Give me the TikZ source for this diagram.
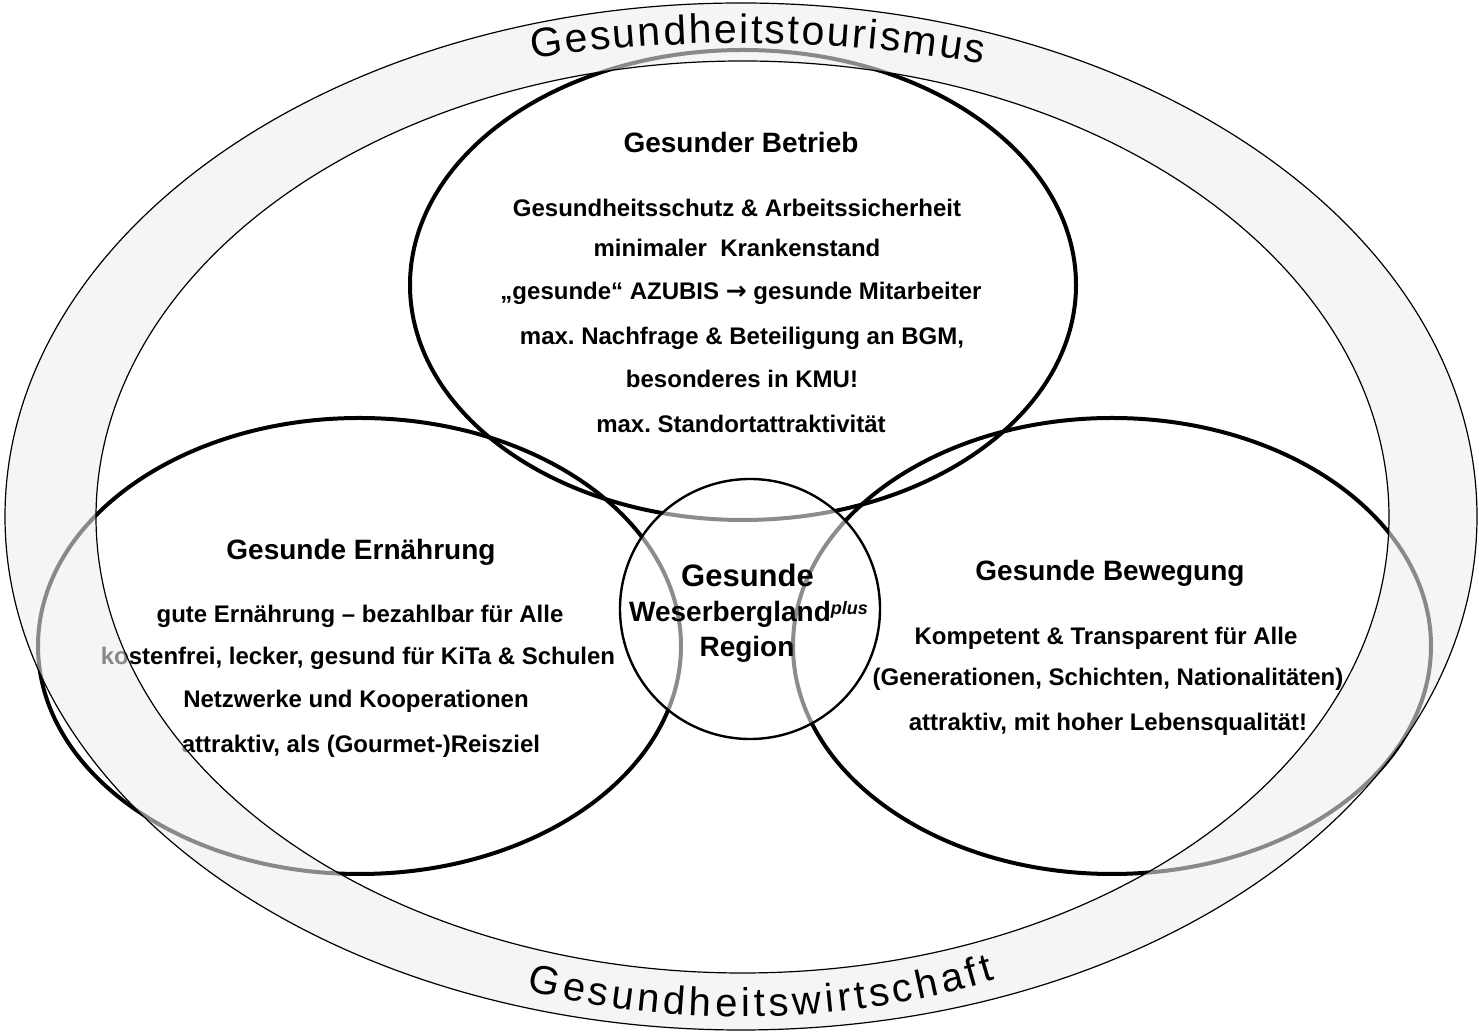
\documentclass[tikz,border=0pt]{standalone}
\usepackage{fontspec}
\setmainfont{Liberation Sans}
\newfontfamily\arrowfont{DejaVu Sans}
\usetikzlibrary{decorations.text}
\newcommand\bandfont{\fontsize{20.5}{20.5}\selectfont}
\newcommand\bandfontb{\fontsize{20}{20}\selectfont}
\frenchspacing
\begin{document}
\begin{tikzpicture}[x=0.5pt,y=0.5pt,
  field/.style={line width=2pt},
  bandfill/.style={fill=black!7, fill opacity=0.58, even odd rule},
  bandline/.style={line width=0.6pt},
  titletext/.style={font=\bfseries\fontsize{14}{14}\selectfont, anchor=base, inner sep=0pt},
  itemtext/.style={font=\bfseries\fontsize{12}{12}\selectfont, anchor=base, inner sep=0pt},
  coretext/.style={font=\bfseries\fontsize{14}{14}\selectfont, anchor=base, inner sep=0pt}]
\useasboundingbox (0,0) rectangle (1479,1033);
% the three fields
\draw[field] (743,748) ellipse [x radius=333, y radius=235];
\draw[field] (359.5,387) ellipse [x radius=321.5, y radius=228];
\draw[field] (1112,387) ellipse [x radius=319, y radius=228];
% region in the middle
\draw[line width=1.2pt, fill=white, fill opacity=0.55] (750,424) circle [radius=130];
% Betrieb
\node[titletext] (betrieb) at (741,880) {Gesunder Betrieb};
\node[itemtext] (betrieb1) at (737,816) {Gesundheitsschutz \& Arbeitssicherheit};
\node[itemtext] (betrieb2) at (737,776) {minimaler\ \ Krankenstand};
\node[itemtext] (betrieb3) at (741,733) {„gesunde“ AZUBIS {\arrowfont\fontsize{12.5}{12.5}\selectfont →} gesunde Mitarbeiter};
\node[itemtext] (betrieb4) at (742,688) {max. Nachfrage \& Beteiligung an BGM,};
\node[itemtext] (betrieb5) at (742,645) {besonderes in KMU!};
\node[itemtext] (betrieb6) at (741,600) {max. Standortattraktivität};
% Ernaehrung
\node[titletext] (ernaehrung) at (361,473) {Gesunde Ernährung};
\node[itemtext] (ernaehrung1) at (360,410) {gute Ernährung – bezahlbar für Alle};
\node[itemtext] (ernaehrung2) at (358,368) {kostenfrei, lecker, gesund für KiTa \& Schulen};
\node[itemtext] (ernaehrung3) at (356,325) {Netzwerke und Kooperationen};
\node[itemtext] (ernaehrung4) at (361,280) {attraktiv, als (Gourmet-)Reisziel};
% Bewegung
\node[titletext] (bewegung) at (1110,452) {Gesunde Bewegung};
\node[itemtext] (bewegung1) at (1106,388) {Kompetent \& Transparent für Alle};
\node[itemtext] (bewegung2) at (1108,347) {(Generationen, Schichten, Nationalitäten)};
\node[itemtext] (bewegung3) at (1108,302) {attraktiv, mit hoher Lebensqualität!};
% Region
\node[coretext, font=\bfseries\fontsize{15.5}{15.5}\selectfont] (region1) at (747.5,446) {Gesunde};
\node[coretext] (region2) at (748.5,411) {Weserbergland\raisebox{3.5pt}{\fontsize{9}{9}\selectfont\itshape plus}};
\node[coretext] (region3) at (747,376) {Region};
% outer band
\fill[bandfill] (741,516.5) ellipse [x radius=736, y radius=513.5]
  (742.5,516) ellipse [x radius=646.5, y radius=456];
\draw[bandline] (741,516.5) ellipse [x radius=736, y radius=513.5];
\draw[bandline] (742.5,516) ellipse [x radius=646.5, y radius=456];
\path[decorate, decoration={text along path, text align={fit to path},
  text={|\bandfont|Gesundheitstourismus}}]
  (741,516.5) ++(104.7:823 and 473.5) arc [start angle=104.7, end angle=72.9, x radius=823, y radius=473.5];
\path[decorate, decoration={text along path, text align={fit to path},
  text={|\bandfontb|Gesundheitswirtschaft}}]
  (741,516.5) ++(251.4:671 and 500.5) arc [start angle=251.4, end angle=292.2, x radius=671, y radius=500.5];
\end{tikzpicture}
\end{document}
